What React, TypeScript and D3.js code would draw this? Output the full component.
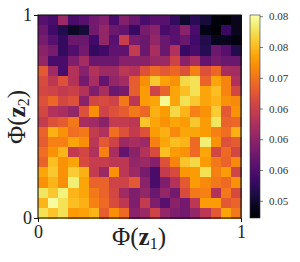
import React, { useEffect, useRef } from "react";
import * as d3 from "d3";

// mean value per cell, top row first
const heatRows: number[][] = [
  [0.0555, 0.0545, 0.0611, 0.0545, 0.0555, 0.0578, 0.0591, 0.0545, 0.0591, 0.0571, 0.0545, 0.0558, 0.0555, 0.0528, 0.0498, 0.0522, 0.0505, 0.0479, 0.0472, 0.0489],
  [0.0571, 0.0538, 0.0515, 0.0495, 0.0505, 0.0578, 0.0604, 0.0571, 0.0564, 0.0531, 0.0581, 0.0597, 0.0545, 0.0555, 0.0597, 0.0545, 0.0485, 0.0475, 0.0531, 0.0489],
  [0.0581, 0.0555, 0.0528, 0.0571, 0.0571, 0.0538, 0.0604, 0.0555, 0.0647, 0.0581, 0.0571, 0.0604, 0.0571, 0.0555, 0.0571, 0.0538, 0.0515, 0.0489, 0.0489, 0.0482],
  [0.0597, 0.0581, 0.0528, 0.0551, 0.0578, 0.0528, 0.0538, 0.0561, 0.0561, 0.0644, 0.0571, 0.0621, 0.0571, 0.0627, 0.0531, 0.0545, 0.0518, 0.0571, 0.0555, 0.0515],
  [0.0604, 0.0545, 0.0545, 0.0588, 0.0617, 0.0571, 0.0571, 0.0571, 0.0594, 0.0594, 0.0597, 0.0611, 0.0611, 0.0654, 0.0597, 0.0621, 0.0564, 0.0581, 0.0571, 0.0571],
  [0.0677, 0.0614, 0.0545, 0.0630, 0.0594, 0.0630, 0.0611, 0.0611, 0.0637, 0.0630, 0.0670, 0.0693, 0.0677, 0.0690, 0.0670, 0.0710, 0.0670, 0.0690, 0.0621, 0.0617],
  [0.0663, 0.0637, 0.0670, 0.0630, 0.0578, 0.0621, 0.0564, 0.0604, 0.0617, 0.0680, 0.0720, 0.0759, 0.0733, 0.0723, 0.0769, 0.0776, 0.0687, 0.0736, 0.0713, 0.0627],
  [0.0660, 0.0654, 0.0644, 0.0650, 0.0630, 0.0588, 0.0621, 0.0571, 0.0581, 0.0683, 0.0729, 0.0654, 0.0687, 0.0736, 0.0753, 0.0776, 0.0736, 0.0753, 0.0713, 0.0660],
  [0.0670, 0.0690, 0.0660, 0.0670, 0.0597, 0.0660, 0.0663, 0.0654, 0.0703, 0.0637, 0.0729, 0.0736, 0.0795, 0.0736, 0.0776, 0.0759, 0.0736, 0.0746, 0.0723, 0.0716],
  [0.0660, 0.0630, 0.0621, 0.0604, 0.0670, 0.0720, 0.0654, 0.0670, 0.0680, 0.0703, 0.0690, 0.0743, 0.0729, 0.0769, 0.0746, 0.0710, 0.0723, 0.0762, 0.0677, 0.0723],
  [0.0644, 0.0670, 0.0680, 0.0703, 0.0621, 0.0614, 0.0597, 0.0644, 0.0644, 0.0637, 0.0756, 0.0736, 0.0723, 0.0736, 0.0729, 0.0759, 0.0729, 0.0779, 0.0687, 0.0690],
  [0.0687, 0.0743, 0.0723, 0.0696, 0.0703, 0.0644, 0.0627, 0.0696, 0.0670, 0.0644, 0.0670, 0.0729, 0.0743, 0.0716, 0.0736, 0.0736, 0.0729, 0.0710, 0.0696, 0.0743],
  [0.0680, 0.0710, 0.0710, 0.0736, 0.0720, 0.0637, 0.0677, 0.0654, 0.0611, 0.0621, 0.0611, 0.0710, 0.0736, 0.0753, 0.0746, 0.0693, 0.0786, 0.0723, 0.0670, 0.0680],
  [0.0696, 0.0723, 0.0746, 0.0644, 0.0660, 0.0627, 0.0710, 0.0621, 0.0564, 0.0597, 0.0630, 0.0663, 0.0753, 0.0729, 0.0723, 0.0693, 0.0736, 0.0660, 0.0693, 0.0660],
  [0.0687, 0.0753, 0.0723, 0.0736, 0.0663, 0.0647, 0.0647, 0.0637, 0.0637, 0.0604, 0.0611, 0.0591, 0.0670, 0.0713, 0.0756, 0.0769, 0.0729, 0.0703, 0.0687, 0.0716],
  [0.0736, 0.0759, 0.0723, 0.0762, 0.0743, 0.0644, 0.0611, 0.0723, 0.0637, 0.0611, 0.0581, 0.0545, 0.0644, 0.0663, 0.0726, 0.0729, 0.0776, 0.0710, 0.0729, 0.0657],
  [0.0723, 0.0746, 0.0720, 0.0786, 0.0736, 0.0687, 0.0687, 0.0654, 0.0654, 0.0677, 0.0597, 0.0545, 0.0588, 0.0630, 0.0677, 0.0729, 0.0716, 0.0703, 0.0693, 0.0723],
  [0.0779, 0.0759, 0.0789, 0.0746, 0.0736, 0.0703, 0.0687, 0.0660, 0.0614, 0.0588, 0.0604, 0.0571, 0.0604, 0.0578, 0.0663, 0.0703, 0.0710, 0.0630, 0.0703, 0.0663],
  [0.0746, 0.0799, 0.0776, 0.0753, 0.0743, 0.0710, 0.0693, 0.0663, 0.0637, 0.0588, 0.0644, 0.0588, 0.0555, 0.0597, 0.0578, 0.0637, 0.0729, 0.0729, 0.0677, 0.0687],
  [0.0776, 0.0756, 0.0776, 0.0729, 0.0733, 0.0746, 0.0683, 0.0720, 0.0693, 0.0597, 0.0611, 0.0654, 0.0604, 0.0588, 0.0578, 0.0604, 0.0637, 0.0677, 0.0736, 0.0703],
];

const axisTicks = [0, 1];
const barTicks = [0.05, 0.055, 0.06, 0.065, 0.07, 0.075, 0.08];
const barLabels = ["0.05", "0.06", "0.06", "0.06", "0.07", "0.08", "0.08"];
const colorDomain = [0.0472, 0.0802];

const serif = "'Liberation Serif', 'DejaVu Serif', serif";

const App = () => {
  const svgRef = useRef<SVGSVGElement>(null);

  const plot = { left: 38, right: 241, top: 15, bottom: 218 };
  const bar = { left: 250, right: 260 };

  useEffect(() => {
    const svg = d3.select(svgRef.current);
    svg.selectAll("*").remove();

    const n = heatRows.length;
    const x = d3.scaleLinear().domain([0, 1]).range([plot.left, plot.right]);
    const y = d3.scaleLinear().domain([0, 1]).range([plot.bottom, plot.top]);
    const color = d3
      .scaleSequential(d3.interpolateInferno)
      .domain(colorDomain as [number, number]);
    const barY = d3
      .scaleLinear()
      .domain(colorDomain)
      .range([plot.bottom, plot.top]);

    // heatmap cells
    svg
      .append("g")
      .attr("shape-rendering", "crispEdges")
      .selectAll("g")
      .data(heatRows)
      .join("g")
      .each(function (row, r) {
        d3.select(this)
          .selectAll("rect")
          .data(row)
          .join("rect")
          .attr("x", (_, c) => x(c / n))
          .attr("y", y(1 - r / n))
          .attr("width", x(1 / n) - x(0) + 0.5)
          .attr("height", y(0) - y(1 / n) + 0.5)
          .attr("fill", (d) => color(d));
      });

    // frame
    svg
      .append("rect")
      .attr("x", plot.left)
      .attr("y", plot.top)
      .attr("width", plot.right - plot.left)
      .attr("height", plot.bottom - plot.top)
      .attr("fill", "none")
      .attr("stroke", "#111")
      .attr("stroke-width", 1.1);

    const xAxis = svg
      .append("g")
      .attr("transform", `translate(0,${plot.bottom})`)
      .call(d3.axisBottom(x).tickValues(axisTicks).tickSize(4).tickFormat(d3.format("d")));
    const yAxis = svg
      .append("g")
      .attr("transform", `translate(${plot.left},0)`)
      .call(d3.axisLeft(y).tickValues(axisTicks).tickSize(4).tickFormat(d3.format("d")));
    [xAxis, yAxis].forEach((a) => {
      a.select(".domain").remove();
      a.selectAll("line").attr("stroke", "#111").attr("stroke-width", 1);
      a.selectAll("text")
        .attr("font-family", serif)
        .attr("font-size", 18)
        .attr("font-weight", 300)
        .attr("fill", "#222");
    });
    xAxis.selectAll("text").attr("y", 7);
    yAxis.selectAll("text").attr("x", -6);

    // axis titles
    const xTitle = svg
      .append("text")
      .attr("x", 139)
      .attr("y", 245)
      .attr("text-anchor", "middle")
      .attr("font-family", serif)
      .attr("font-size", 25)
      .attr("fill", "#222");
    const yTitle = svg
      .append("text")
      .attr("transform", "translate(25,117) rotate(-90)")
      .attr("text-anchor", "middle")
      .attr("font-family", serif)
      .attr("font-size", 25)
      .attr("fill", "#222");
    [
      { node: xTitle, sub: "1" },
      { node: yTitle, sub: "2" },
    ].forEach(({ node, sub }) => {
      node.append("tspan").text("Φ(");
      node.append("tspan").attr("font-weight", "bold").text("z");
      node.append("tspan").attr("font-size", 16).attr("dy", 4).text(sub);
      node.append("tspan").attr("dy", -4).text(")");
    });

    // colorbar
    const grad = svg
      .append("defs")
      .append("linearGradient")
      .attr("id", "inferno")
      .attr("x1", 0)
      .attr("x2", 0)
      .attr("y1", 1)
      .attr("y2", 0);
    d3.range(0, 1.001, 0.05).forEach((t) => {
      grad
        .append("stop")
        .attr("offset", t)
        .attr("stop-color", d3.interpolateInferno(t));
    });
    svg
      .append("rect")
      .attr("x", bar.left)
      .attr("y", plot.top)
      .attr("width", bar.right - bar.left)
      .attr("height", plot.bottom - plot.top)
      .attr("fill", "url(#inferno)")
      .attr("stroke", "#333")
      .attr("stroke-width", 0.6);

    const barAxis = svg
      .append("g")
      .attr("transform", `translate(${bar.right},0)`)
      .call(
        d3
          .axisRight(barY)
          .tickValues(barTicks)
          .tickSize(3)
          .tickFormat((_, i) => barLabels[i])
      );
    barAxis.select(".domain").remove();
    barAxis.selectAll("line").attr("stroke", "#222").attr("stroke-width", 0.6);
    barAxis
      .selectAll("text")
      .attr("x", 9)
      .attr("font-family", serif)
      .attr("font-size", 11)
      .attr("fill", "#333");
  }, []);

  return (
    <svg
      ref={svgRef}
      width={300}
      height={262}
      style={{ position: "absolute", left: 0, top: 0, background: "white" }}
    />
  );
};

export default App;
